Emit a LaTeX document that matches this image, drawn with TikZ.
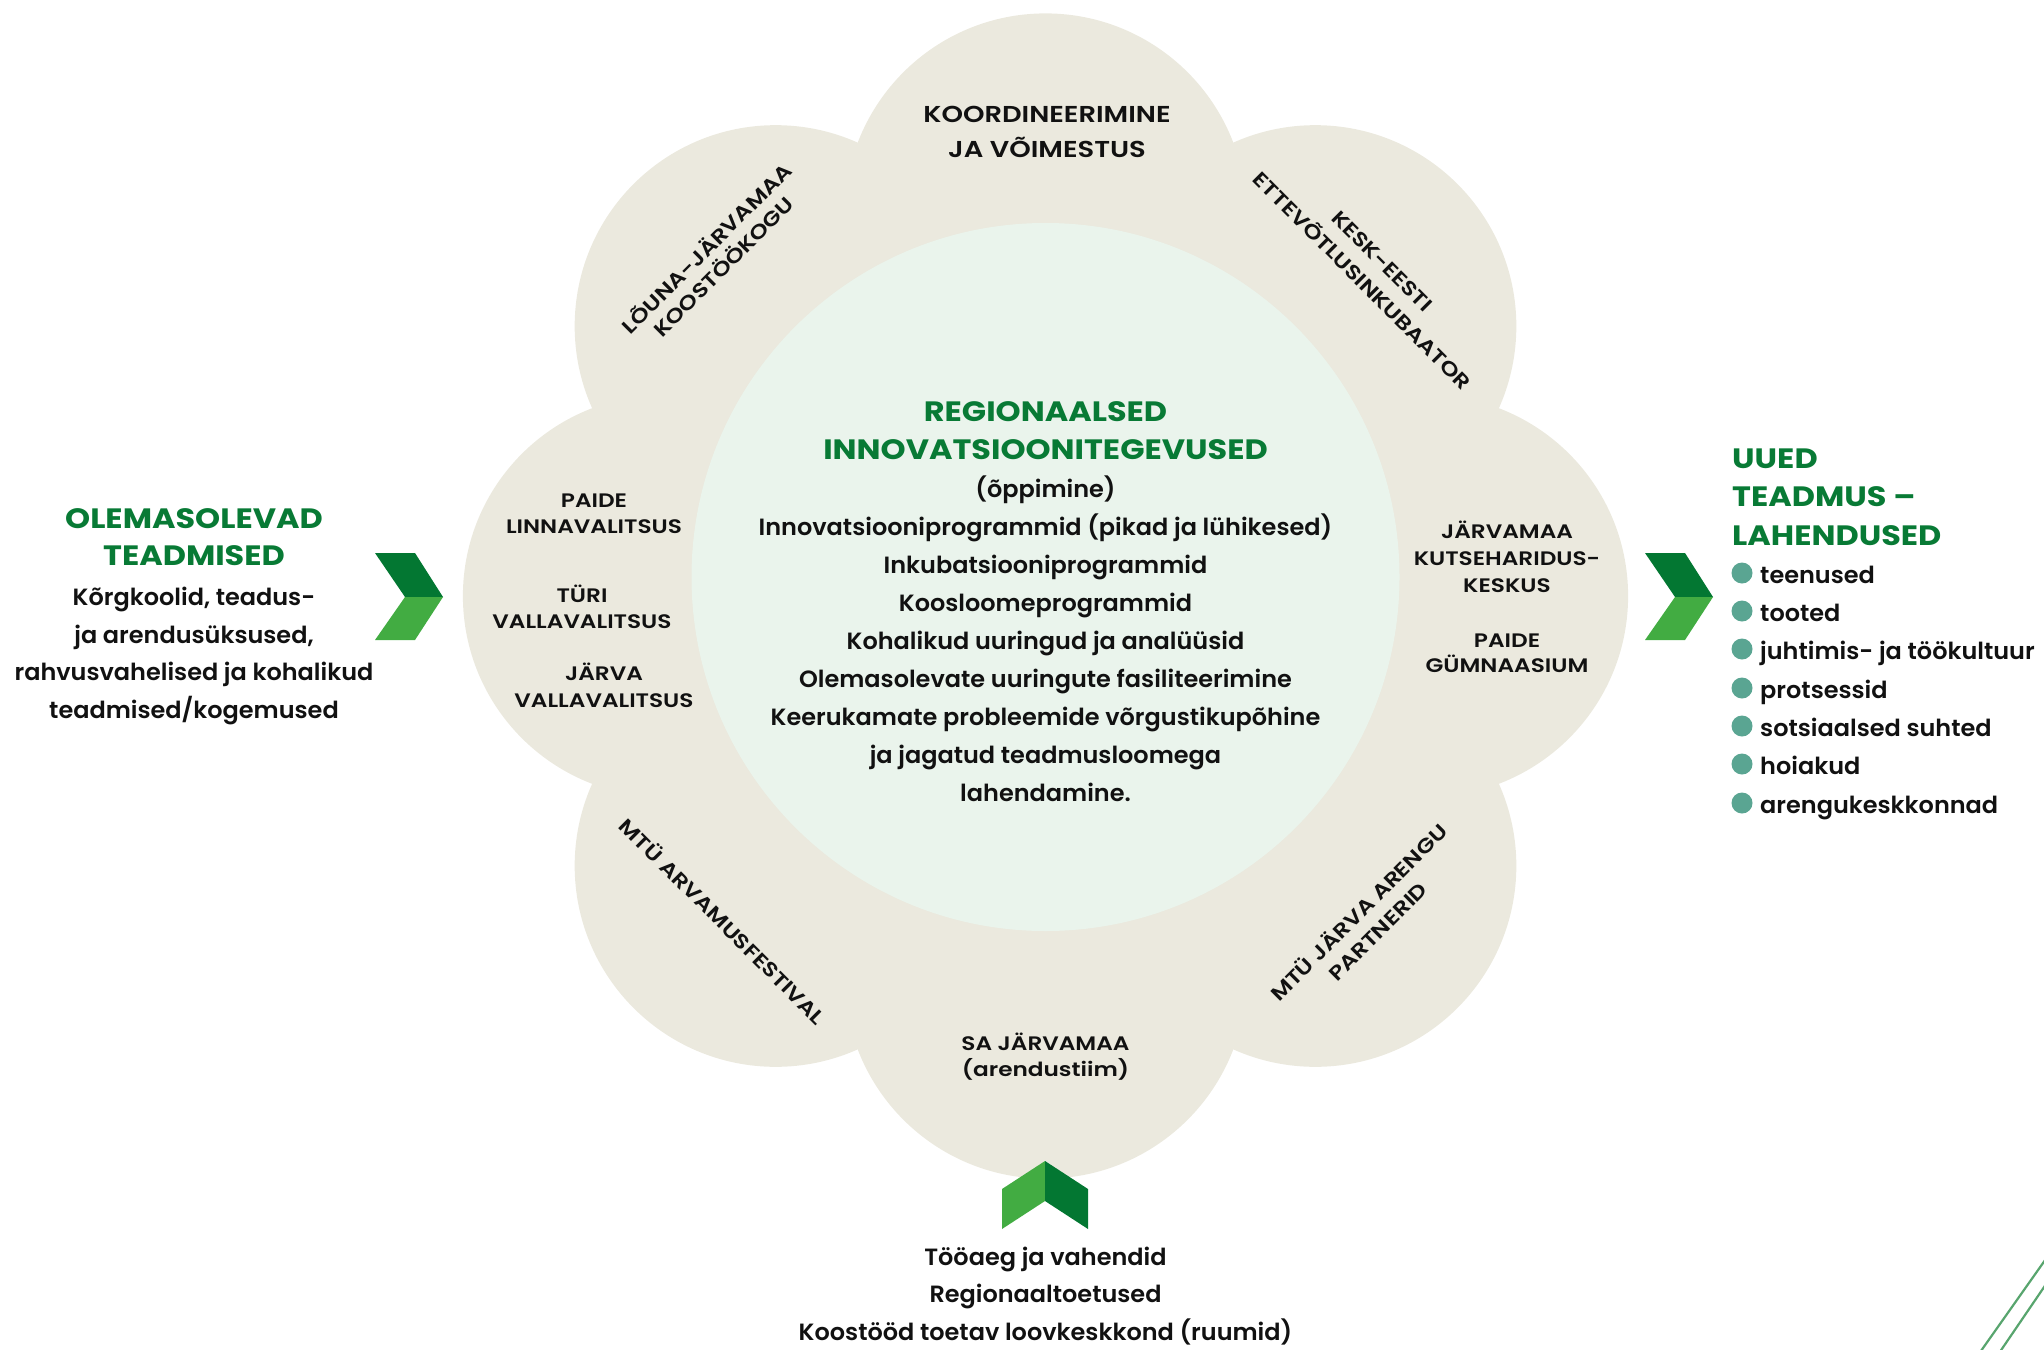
\documentclass[tikz,border=0pt]{standalone}
\usepackage{fontspec}
\setmainfont{Poppins Medium}[BoldFont={Poppins Bold}]
\newfontfamily\bodyfont{Poppins SemiBold}[FakeStretch=1.02]
\newfontfamily\capsfont{Poppins SemiBold}[FakeStretch=1.19]
\newfontfamily\headfont{Poppins Bold}[FakeStretch=1.14]
\definecolor{beige}{RGB}{235,233,222}
\definecolor{corefill}{RGB}{234,244,236}
\definecolor{titlegreen}{RGB}{8,122,53}
\definecolor{darkchev}{RGB}{3,119,50}
\definecolor{lightchev}{RGB}{66,172,66}
\definecolor{bullet}{RGB}{90,165,146}
\definecolor{cornerline}{RGB}{88,165,110}
\definecolor{ink}{RGB}{17,17,17}
\begin{document}
\begin{tikzpicture}[x=1pt,y=-1pt,
  petal/.style={circle,fill=beige,minimum size=402pt,inner sep=0pt},
  core/.style={circle,fill=corefill,minimum size=708pt,inner sep=0pt},
  bodytxt/.style={font=\bodyfont\fontsize{23.5}{38}\selectfont,text=ink,inner sep=0pt,anchor=base},
  titletxt/.style={font=\headfont\fontsize{28}{38}\selectfont,text=titlegreen,inner sep=0pt,anchor=base},
  toptxt/.style={font=\capsfont\fontsize{23}{34}\selectfont,text=ink,inner sep=0pt,anchor=base},
  smalltxt/.style={font=\capsfont\fontsize{19.5}{27}\selectfont,text=ink,inner sep=0pt,anchor=base},
  rottxt/.style={font=\capsfont\fontsize{20}{27}\selectfont,text=ink,inner sep=0pt,anchor=center,text height=14pt,text depth=0pt},
  dot/.style={circle,fill=bullet,minimum size=21pt,inner sep=0pt},
  darkpart/.style={fill=darkchev},
  lightpart/.style={fill=lightchev}
]
\useasboundingbox (0,0) rectangle (2044,1349);
\coordinate (fc) at (1045.5,596);
% petals
\foreach \a in {0,45,...,315}
  \node[petal] (petal\a) at ([shift={(\a:381.6)}]fc) {};
% core
\node[core] (core) at (1045.5,577) {};

% core title and text
\node[titletxt] (coret1) at (1045.5,421) {REGIONAALSED};
\node[titletxt] (coret2) at (1045.5,459) {INNOVATSIOONITEGEVUSED};
\foreach \y/\t [count=\i] in {
  497/{(õppimine)},
  535/{Innovatsiooniprogrammid (pikad ja lühikesed)},
  573/{Inkubatsiooniprogrammid},
  611/{Koosloomeprogrammid},
  649/{Kohalikud uuringud ja analüüsid},
  687/{Olemasolevate uuringute fasiliteerimine},
  725/{Keerukamate probleemide võrgustikupõhine},
  763/{ja jagatud teadmusloomega},
  801/{lahendamine.}}
  \node[bodytxt] (corel\i) at (1045.5,\y) {\t};

% petal texts
\node[toptxt] (top1) at (1047,122) {KOORDINEERIMINE};
\node[toptxt] (top2) at (1047,157) {JA VÕIMESTUS};

\node[smalltxt] (left1) at (594,507) {PAIDE};
\node[smalltxt] (left2) at (594,533) {LINNAVALITSUS};
\node[smalltxt] (left3) at (582,602) {TÜRI};
\node[smalltxt] (left4) at (582,628) {VALLAVALITSUS};
\node[smalltxt] (left5) at (604,680) {JÄRVA};
\node[smalltxt] (left6) at (604,707) {VALLAVALITSUS};

\node[smalltxt] (right1) at (1507,538) {JÄRVAMAA};
\node[smalltxt] (right2) at (1507,565) {KUTSEHARIDUS-};
\node[smalltxt] (right3) at (1507,592) {KESKUS};
\node[smalltxt] (right4) at (1507,647) {PAIDE};
\node[smalltxt] (right5) at (1507,672) {GÜMNAASIUM};

\node[smalltxt] (bot1) at (1045.5,1050) {SA JÄRVAMAA};
\node[smalltxt] (bot2) at (1045.5,1076) {(arendustiim)};

\node[rottxt,rotate=45] (tl1) at (707,249) {LÕUNA-JÄRVAMAA};
\node[rottxt,rotate=45] (tl2) at (724,267) {KOOSTÖÖKOGU};
\node[rottxt,rotate=-45] (tr1) at (1382,261) {KESK-EESTI};
\node[rottxt,rotate=-45] (tr2) at (1362,281) {ETTEVÕTLUSINKUBAATOR};
\node[rottxt,rotate=-45] (bl1) at (722,922) {MTÜ ARVAMUSFESTIVAL};
\node[rottxt,rotate=45] (br1) at (1359,913) {MTÜ JÄRVA ARENGU};
\node[rottxt,rotate=45] (br2) at (1378,932) {PARTNERID};

% left block
\node[titletxt] (lt1) at (194,528) {OLEMASOLEVAD};
\node[titletxt] (lt2) at (194,565) {TEADMISED};
\foreach \y/\t [count=\i] in {
  605/{Kõrgkoolid, teadus-},
  643/{ja arendusüksused,},
  680/{rahvusvahelised ja kohalikud},
  718/{teadmised/kogemused}}
  \node[bodytxt] (ll\i) at (194,\y) {\t};

% right block
\node[titletxt,anchor=base west] (rt1) at (1732,468) {UUED};
\node[titletxt,anchor=base west] (rt2) at (1732,506) {TEADMUS –};
\node[titletxt,anchor=base west] (rt3) at (1732,545) {LAHENDUSED};
\foreach \y/\t [count=\i] in {
  583/{teenused},
  621/{tooted},
  659/{juhtimis- ja töökultuur},
  698/{protsessid},
  736/{sotsiaalsed suhted},
  774/{hoiakud},
  813/{arengukeskkonnad}}
  {
  \node[dot] (rd\i) at (1742,\y-10) {};
  \node[bodytxt,anchor=base west] (rl\i) at (1760,\y) {\t};
  }

% bottom block
\foreach \y/\t [count=\i] in {
  1265/{Tööaeg ja vahendid},
  1302/{Regionaaltoetused},
  1340/{Koostööd toetav loovkeskkond (ruumid)}}
  \node[bodytxt] (bl\i) at (1045.5,\y) {\t};

% chevrons
\fill[darkpart] (375,553) -- (415,553) -- (443,597) -- (405,597) -- cycle;
\fill[lightpart] (405,597) -- (443,597) -- (415,640) -- (375,640) -- cycle;
\fill[darkpart] (1645,553) -- (1685,553) -- (1713,597) -- (1675,597) -- cycle;
\fill[lightpart] (1675,597) -- (1713,597) -- (1685,640) -- (1645,640) -- cycle;
\fill[lightpart] (1002,1189) -- (1045,1161) -- (1045,1201) -- (1002,1229) -- cycle;
\fill[darkpart] (1045,1161) -- (1088,1189) -- (1088,1229) -- (1045,1201) -- cycle;

% corner lines
\begin{scope}
\clip (0,0) rectangle (2044,1349);
\coordinate (ca1) at (2061,1237.5);
\coordinate (ca2) at (1977,1356.5);
\coordinate (cb1) at (2055,1271);
\coordinate (cb2) at (1995,1359);
\draw[cornerline,line width=2.2pt] (ca1) -- (ca2);
\draw[cornerline,line width=2.2pt] (cb1) -- (cb2);
\end{scope}
\end{tikzpicture}
\end{document}
